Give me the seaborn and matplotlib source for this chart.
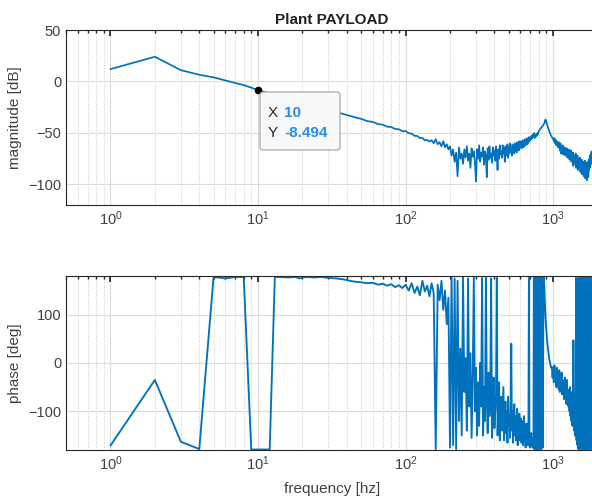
import numpy as np
import pandas as pd
import seaborn as sns
from matplotlib import pyplot as plt
from matplotlib.patches import FancyBboxPatch
from matplotlib.ticker import LogLocator, NullFormatter

# ---- magnitude [dB] ----
mag_freq_low = [1, 2, 3, 4, 5, 6, 7, 8, 9, 10]
mag_low = [12, 24, 11, 6.5, 4, 1, -1.5, -3.5, -6, -8.494]

mag_freq_mid = [12, 14, 16, 18, 20, 23, 26, 30, 34, 38, 42, 46, 50, 55, 60, 65,
                70, 75, 80, 85, 90, 95, 100, 105, 110, 115, 120, 125, 130, 135, 140, 145]
mag_mid = [-11.7, -14.3, -16.7, -18.7, -20.5, -23, -25.1, -27.6, -29.7, -31.7,
           -33.4, -35, -36.3, -38.5, -39.3, -41.4, -42, -43.9, -44.3, -46.2,
           -46.4, -48.3, -48.2, -50.3, -50.6, -52.8, -52.9, -55.1, -54.8, -57.2,
           -56.9, -58.4]

mag_freq_band = list(range(150, 800, 5))
mag_band = [
    -57, -60, -56, -61, -59, -63, -58, -64, -61, -66,
    -63, -72, -66, -78, -69, -92, -64, -75, -70, -80,
    -66, -74, -63, -77, -70, -84, -65, -73, -68, -79,
    -97, -66, -75, -62, -78, -69, -73, -64, -81, -68,
    -72, -93, -65, -76, -63, -74, -70, -79, -64, -72,
    -67, -77, -63, -73, -86, -66, -75, -62, -71, -68,
    -74, -62, -70, -65, -78, -63, -69, -72, -61, -74,
    -64, -70, -60, -68, -66, -72, -61, -67, -63, -70,
    -60, -66, -62, -69, -59, -65, -61, -67, -58, -64,
    -62, -58, -65, -60, -63, -57, -64, -59, -61, -56,
    -62, -57, -60, -55, -61, -56, -59, -54, -58, -55,
    -57, -54, -56, -53, -55, -52, -54, -51, -53, -50,
    -55, -53, -54, -52, -53, -51, -52, -50, -51, -49,
]

mag_freq_peak = [800, 820, 840, 860, 875, 885, 895, 910, 930, 950, 970]
mag_peak = [-48, -46, -44, -42, -40, -37, -38, -42, -46, -50, -53]

mag_freq_tail = list(range(1000, 1860, 10))
mag_tail = [
    -56, -58, -55, -60, -57, -62, -58, -61, -64, -59,
    -63, -67, -60, -70, -64, -66, -62, -71, -65, -68,
    -64, -72, -67, -70, -65, -74, -68, -71, -66, -76,
    -70, -73, -67, -78, -71, -75, -69, -82, -72, -77,
    -73, -80, -70, -84, -76, -79, -72, -86, -75, -81,
    -77, -83, -74, -88, -78, -85, -76, -90, -80, -84,
    -78, -92, -81, -86, -77, -94, -83, -88, -79, -96,
    -82, -89, -78, -93, -80, -86, -75, -84, -72, -81,
    -70, -79, -68, -77, -71, -75,
]

# ---- phase [deg] ----
ph_freq_low = [1, 2, 3, 4, 5, 6, 7, 8, 9, 10, 11, 12, 13]
ph_low = [-171, -35, -163, -178, 178, 175, 178, 178, -179, -179, -179, -179, 178]

ph_freq_mid = [14, 16, 18, 19, 21, 24, 27, 30, 34, 38, 42, 46, 50, 55, 60, 65, 70,
               75, 80, 85, 90, 95, 100, 105, 110, 115, 120, 125, 130, 135, 140, 145,
               150, 155]
ph_mid = [178, 177, 178, 175, 178, 177, 178, 176, 175, 173,
          170, 168, 167, 165, 166, 162, 164, 160, 163, 157,
          161, 155, 162, 150, 165, 145, 158, 140, 170, 148,
          160, 138, 165, 145]

ph_freq_band = list(range(160, 800, 5))
ph_band = [
    -179, 162, 130, 170, 110, 150, 80, 135, -175, 178,
    -170, 175, -178, 170, -120, 30, -150, 178, -60, 10,
    -140, 175, -90, 20, -155, -30, 178, -100, -10, -150,
    -40, -130, 0, -90, 176, -150, -50, -120, 178, -70,
    -145, -20, -110, -60, 175, -155, -80, -30, -135, -100,
    -60, 176, -150, -90, -40, -160, -110, -70, -140, -95,
    -50, -160, -120, -80, -145, -100, -165, -70, -130, -110,
    -155, -90, 40, -140, -100, -165, -120, -85, -150, -110,
    -160, -130, -95, -170, -125, -145, -105, -160, -135, -115,
    -165, -140, -120, -170, -150, -110, -160, -135, -175, -145,
    -125, -165, -150, -170, -140, 176, -160, -175, -150, -170,
    -145, -168, -155, -175, -160, -170, 178, -178, 176, -177,
    178, -179, 177, -176, 179, -178, 175, -179,
]

ph_freq_peak = [800, 810, 820, 830, 840, 850, 860, 870, 880, 890, 900, 910, 920,
                930, 940, 950, 960, 970]
ph_peak = [178, -178, 176, -179, 179, -175, 178, 160, 120, 88, 65, 45, 33,
           20, 8, 2, -5, -10]

ph_freq_tail = list(range(980, 1860, 10))
ph_tail = [
    -8, -30, -15, -40, -5, -35, -20, -50, -10, -45,
    -25, -55, -15, -60, -30, -50, -20, -65, -35, -55,
    -40, -75, -30, -70, -50, -85, -35, -80, -55, -90,
    -60, -100, -50, -110, -70, -120, -60, -130, -90, 47,
    -80, -140, -95, -150, -100, 178, -160, 175, -170, 170,
    -178, 176, -175, 178, -179, 172, -176, 179, -172, 177,
    -179, 175, -174, 178, -177, 176, -179, 173, -175, 179,
    -178, 174, -176, 177, -179, 178, -173, 175, -178, 176,
    -176, 179, -175, 177, -179, 174, -177, 178,
]

df_mag = pd.DataFrame({
    "frequency": mag_freq_low + mag_freq_mid + mag_freq_band + mag_freq_peak + mag_freq_tail,
    "magnitude": mag_low + mag_mid + mag_band + mag_peak + mag_tail,
})
df_ph = pd.DataFrame({
    "frequency": ph_freq_low + ph_freq_mid + ph_freq_band + ph_freq_peak + ph_freq_tail,
    "phase": ph_low + ph_mid + ph_band + ph_peak + ph_tail,
})

LINE = "#0072BD"
GRID = "#DCDCDC"
TXT = "#404040"

sns.set_theme(style="white")
plt.rcParams["font.family"] = ["Liberation Sans", "DejaVu Sans"]

fig = plt.figure(figsize=(5.92, 5.04), dpi=100)
ax1 = fig.add_axes([66 / 592, 1 - 205 / 504, 531.6 / 592, 175 / 504])
ax2 = fig.add_axes([66 / 592, 1 - 450 / 504, 531.6 / 592, 174 / 504])

sns.lineplot(data=df_mag, x="frequency", y="magnitude", ax=ax1, color=LINE,
             linewidth=1.25, estimator=None, sort=False)
sns.lineplot(data=df_ph, x="frequency", y="phase", ax=ax2, color=LINE,
             linewidth=1.35, estimator=None, sort=False)

for ax in (ax1, ax2):
    ax.set_xscale("log")
    ax.set_xlim(0.5, 2000)
    ax.xaxis.set_major_locator(LogLocator(base=10))
    ax.xaxis.set_minor_locator(LogLocator(base=10, subs=np.arange(2, 10)))
    ax.xaxis.set_minor_formatter(NullFormatter())
    ax.grid(which="major", axis="both", color=GRID, linewidth=0.8, linestyle="-")
    ax.grid(which="minor", axis="x", color="#C8C8C8", linewidth=0.7, linestyle=":")
    ax.set_axisbelow(True)
    ax.tick_params(which="both", direction="in", top=True, right=True,
                   colors="#262626", labelcolor=TXT, labelsize=10.5)
    ax.tick_params(which="major", length=4)
    ax.tick_params(which="minor", length=2)
    for s in ax.spines.values():
        s.set_color("#262626")
        s.set_linewidth(0.8)

ax1.set_ylim(-120, 50)
ax1.set_yticks([-100, -50, 0, 50])
ax1.set_xlabel("")
ax1.set_ylabel("magnitude [dB]", color=TXT, fontsize=11)
ax1.set_title("Plant PAYLOAD", fontsize=11, fontweight="bold", color="#202020", pad=4)

ax2.set_ylim(-180, 180)
ax2.set_yticks([-100, 0, 100])
ax2.set_xlabel("frequency [hz]", color=TXT, fontsize=11, labelpad=6)
ax2.set_ylabel("phase [deg]", color=TXT, fontsize=11)

# data tip
ax1.plot([10], [-8.494], marker="o", color="black", markersize=4.5, zorder=5)
box = FancyBboxPatch((260 / 592, 1 - 150 / 504), 80 / 592, 58 / 504,
                     boxstyle="round,pad=0,rounding_size=0.006",
                     transform=fig.transFigure, facecolor="#F7F8FA",
                     edgecolor="#A8A8A8", linewidth=0.9, zorder=10)
fig.add_artist(box)
fig.text(268 / 592, 1 - 113 / 504, "X", fontsize=11, color="#262626", va="center", zorder=11)
fig.text(284 / 592, 1 - 113 / 504, "10", fontsize=11, color="#2A8BEA", fontweight="bold",
         va="center", zorder=11)
fig.text(268 / 592, 1 - 133 / 504, "Y", fontsize=11, color="#262626", va="center", zorder=11)
fig.text(284 / 592, 1 - 133 / 504, "-8.494", fontsize=11, color="#2A8BEA", fontweight="bold",
         va="center", zorder=11)

fig.savefig("out.png", dpi=100)
